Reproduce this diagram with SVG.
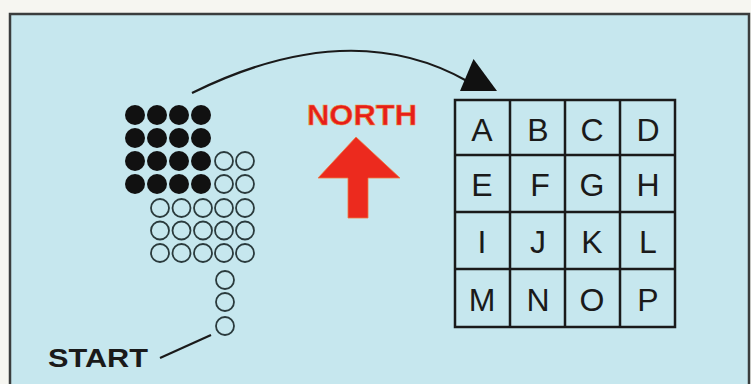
<svg xmlns="http://www.w3.org/2000/svg" width="751" height="384" viewBox="0 0 751 384">
<style>
.dot{fill:#111}
.ring{fill:none;stroke:#2a3a3c;stroke-width:1.8}
.grid{fill:none;stroke:#1a1a1a;stroke-width:2.5}
.letter{font-family:"Liberation Sans",Arial,sans-serif;font-size:32px;fill:#1a1a1a;text-anchor:middle}
.bold{font-family:"Liberation Sans",Arial,sans-serif;font-weight:bold}
.line{fill:none;stroke:#1a1a1a;stroke-width:2.2}
</style>
<rect x="0" y="0" width="751" height="384" fill="#f6f6f1"/>
<rect id="frame" x="10" y="14" width="739" height="380" fill="#c6e7ee" stroke="#3a3d3d" stroke-width="2.5"/>
<g id="filled-dots">
<circle class="dot" cx="135" cy="115" r="10"/><circle class="dot" cx="157" cy="115" r="10"/><circle class="dot" cx="179" cy="115" r="10"/><circle class="dot" cx="201" cy="115" r="10"/>
<circle class="dot" cx="135" cy="138" r="10"/><circle class="dot" cx="157" cy="138" r="10"/><circle class="dot" cx="179" cy="138" r="10"/><circle class="dot" cx="201" cy="138" r="10"/>
<circle class="dot" cx="135" cy="161" r="10"/><circle class="dot" cx="157" cy="161" r="10"/><circle class="dot" cx="179" cy="161" r="10"/><circle class="dot" cx="201" cy="161" r="10"/>
<circle class="dot" cx="135" cy="184" r="10"/><circle class="dot" cx="157" cy="184" r="10"/><circle class="dot" cx="179" cy="184" r="10"/><circle class="dot" cx="201" cy="184" r="10"/>
</g>
<g id="open-dots">
<circle class="ring" cx="224" cy="161" r="9"/><circle class="ring" cx="245" cy="161" r="9"/>
<circle class="ring" cx="224" cy="184" r="9"/><circle class="ring" cx="245" cy="184" r="9"/>
<circle class="ring" cx="160" cy="208" r="9"/><circle class="ring" cx="181.5" cy="208" r="9"/><circle class="ring" cx="203" cy="208" r="9"/><circle class="ring" cx="224" cy="208" r="9"/><circle class="ring" cx="245" cy="208" r="9"/>
<circle class="ring" cx="160" cy="230.5" r="9"/><circle class="ring" cx="181.5" cy="230.5" r="9"/><circle class="ring" cx="203" cy="230.5" r="9"/><circle class="ring" cx="224" cy="230.5" r="9"/><circle class="ring" cx="245" cy="230.5" r="9"/>
<circle class="ring" cx="160" cy="253" r="9"/><circle class="ring" cx="181.5" cy="253" r="9"/><circle class="ring" cx="203" cy="253" r="9"/><circle class="ring" cx="224" cy="253" r="9"/><circle class="ring" cx="245" cy="253" r="9"/>
<circle class="ring" cx="225" cy="280" r="9"/><circle class="ring" cx="225" cy="302" r="9"/><circle class="ring" cx="225" cy="326" r="9"/>
</g>
<g id="connectors">
<path class="line" d="M192,93 Q350,15 467,81"/>
<polygon points="473.5,59 460,91 497,91" fill="#111"/>
<path class="line" d="M160,358 L211,335"/>
</g>
<g id="start">
<text class="bold" x="48" y="367" font-size="26" fill="#1a1a1a" textLength="100" lengthAdjust="spacingAndGlyphs">START</text>
</g>
<g id="north">
<text class="bold" x="307" y="125" font-size="30" fill="#e61e1a" stroke="#f09040" stroke-width="0.6" textLength="110" lengthAdjust="spacingAndGlyphs">NORTH</text>
<polygon points="356,137 318,178 348,178 348,218 368,218 368,178 400,178" fill="#ec2a1e" stroke="#f07a40" stroke-width="0.8"/>
</g>
<g id="grid">
<rect class="grid" x="455" y="100" width="220" height="227"/>
<path class="grid" d="M510,100V327M565,100V327M620,100V327M455,155H675M455,212H675M455,269H675"/>
<text class="letter" x="482" y="141">A</text><text class="letter" x="538" y="141">B</text><text class="letter" x="592" y="141">C</text><text class="letter" x="648" y="141">D</text>
<text class="letter" x="482" y="196">E</text><text class="letter" x="540" y="196">F</text><text class="letter" x="592" y="196">G</text><text class="letter" x="648" y="196">H</text>
<text class="letter" x="482" y="253">I</text><text class="letter" x="538" y="253">J</text><text class="letter" x="592" y="253">K</text><text class="letter" x="648" y="253">L</text>
<text class="letter" x="482" y="311">M</text><text class="letter" x="538" y="311">N</text><text class="letter" x="592" y="311">O</text><text class="letter" x="648" y="311">P</text>
</g>
</svg>
